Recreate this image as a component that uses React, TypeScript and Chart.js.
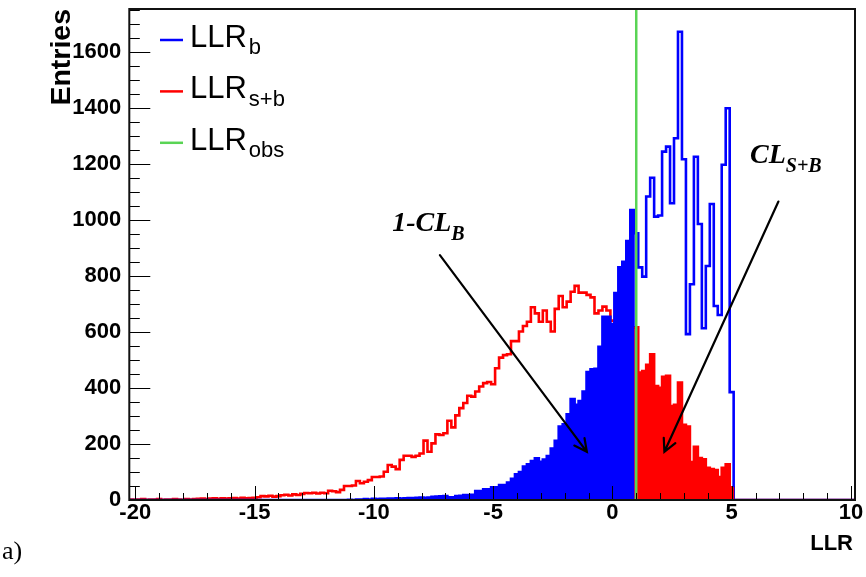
import React, { useEffect, useRef } from "react";
import { Chart, registerables } from "chart.js";

Chart.register(...registerables);

// ---- Histogram binning (LLR axis) ----
const BIN_START = -20.25;
const BIN_WIDTH = 1 / 6;
const BIN_COUNT = 183;

// LLR_{s+b} entries per bin (first value = bin LLR_SB_FIRST_BIN)
const LLR_SB_FIRST_BIN = 0;
const LLR_SB_COUNTS = [
  2, 1, 2, 3, 1, 2, 2, 3, 1, 2, 2, 3, 2, 1, 3, 2, 3,
  4, 5, 3, 5, 6, 4, 6, 5,
  6, 7, 5, 8, 6, 7, 8, 10,
  14, 13, 15, 12, 14,
  17, 19, 16, 20, 18,
  22, 25, 24, 26, 23, 26,
  24, 33, 31, 28, 36, 50, 50, 52, 68, 60,
  65, 71, 82, 82, 84, 101, 125, 119, 110, 143,
  158, 158, 154, 158, 166, 212, 172, 202, 234, 232,
  238, 283, 259, 302, 328, 346, 372, 369, 387, 405,
  417, 421, 413, 470, 508, 517, 520, 567, 567, 601,
  621, 636, 688, 666, 636, 676, 636, 601, 682, 728,
  688, 708, 743, 764, 740, 740, 732, 723, 666, 676,
  690, 676, 640, 620, 635, 610, 625, 615, 616, 455,
  460, 482, 520, 407, 400, 440, 443, 335, 340, 419,
  268, 262, 135, 190, 150, 145, 115, 110, 107, 82,
  115, 127, 45, 0,
];

// LLR_b entries per bin (first value = bin LLR_B_FIRST_BIN)
const LLR_B_FIRST_BIN = 55;
const LLR_B_COUNTS = [
  1, 0, 2, 2, 3, 2, 4, 3, 4, 4,
  5, 5, 6, 5, 6, 7, 7, 8, 9, 8,
  9, 11, 12, 13, 14, 10, 10, 14, 15, 18,
  18, 19, 32, 32, 38, 38, 45, 45, 53, 53,
  62, 76, 92, 100, 119, 127, 139, 149, 136, 144,
  157, 184, 211, 262, 270, 306, 360, 340, 353, 387,
  457, 466, 468, 547, 654, 654, 628, 738, 830, 850,
  924, 1035, 952, 830, 797, 1083, 1150, 1011, 1015, 1243,
  1261, 1059, 1291, 1671, 1216, 592, 770, 1225, 985, 613,
  835, 1056, 692, 660, 1196, 1398, 385,
];

const LLR_OBS = 1.0;

// ---- Axes ----
const X_MIN = -20.25;
const X_MAX = 10.17;
const Y_MIN = 0;
const Y_MAX = 1752;
const X_TICKS = [-20, -15, -10, -5, 0, 5, 10];
const X_MINOR_STEP = 1;
const Y_TICKS = [0, 200, 400, 600, 800, 1000, 1200, 1400, 1600];
const Y_MINOR_STEP = 50;

// ---- Texts ----
const X_TITLE = "LLR";
const Y_TITLE = "Entries";
const PANEL_LABEL = "a)";

const BLUE = "#0000ff";
const RED = "#ff0000";
const GREEN = "#59d454";

const LEGEND = [
  { main: "LLR", sub: "b", color: BLUE },
  { main: "LLR", sub: "s+b", color: RED },
  { main: "LLR", sub: "obs", color: GREEN },
];

const ANNOTATIONS = [
  { main: "1-CL", sub: "B", x: -9.23, y: 960, from: [-7.23, 874], to: [-1.07, 172] },
  { main: "CL", sub: "S+B", x: 5.77, y: 1202, from: [6.96, 1065], to: [2.18, 172] },
];

// ---- helpers ----
const edge = (k: number) => BIN_START + k * BIN_WIDTH;
const countAt = (first: number, counts: number[], k: number) =>
  k >= first && k < first + counts.length ? counts[k - first] : 0;

function stepPoints(first: number, counts: number[], from: number, to: number) {
  const pts: { x: number; y: number }[] = [];
  for (let k = from; k < to; k++) pts.push({ x: edge(k), y: countAt(first, counts, k) });
  pts.push({ x: edge(to), y: 0 });
  return pts;
}

const OBS_BIN = Math.floor((LLR_OBS - BIN_START) / BIN_WIDTH);

const SANS = '"Liberation Sans", Arial, Helvetica, sans-serif';
const SERIF = '"Liberation Serif", "Times New Roman", serif';

function drawSub(
  ctx: CanvasRenderingContext2D,
  x: number,
  y: number,
  main: string,
  sub: string,
  mainFont: string,
  subFont: string,
  subDy: number,
  gap: number
) {
  ctx.font = mainFont;
  ctx.fillText(main, x, y);
  const w = ctx.measureText(main).width;
  ctx.font = subFont;
  ctx.fillText(sub, x + w + gap, y + subDy);
}

const overlay = {
  id: "overlay",
  afterDraw(chart: any) {
    const { ctx, chartArea: a, scales } = chart;
    const xs = scales.x;
    const ys = scales.y;
    ctx.save();

    // ticks (inside the frame)
    ctx.strokeStyle = "#000";
    ctx.lineWidth = 1;
    ctx.beginPath();
    for (let v = Math.ceil(X_MIN); v <= X_MAX; v += X_MINOR_STEP) {
      const px = Math.round(xs.getPixelForValue(v)) + 0.5;
      const len = X_TICKS.includes(v) ? 14 : 7;
      ctx.moveTo(px, a.bottom);
      ctx.lineTo(px, a.bottom - len);
    }
    for (let v = Y_MIN; v <= Y_MAX; v += Y_MINOR_STEP) {
      const py = Math.round(ys.getPixelForValue(v)) + 0.5;
      const len = Y_TICKS.includes(v) ? 21 : 10.5;
      ctx.moveTo(a.left, py);
      ctx.lineTo(a.left + len, py);
    }
    ctx.stroke();

    // frame
    ctx.lineWidth = 2;
    ctx.strokeStyle = "#111";
    ctx.strokeRect(a.left, a.top, a.right - a.left, a.bottom - a.top);

    ctx.fillStyle = "#000";
    ctx.textBaseline = "alphabetic";

    // axis titles
    ctx.font = `bold 22px ${SANS}`;
    ctx.textAlign = "right";
    ctx.fillText(X_TITLE, a.right - 2, 550);

    ctx.save();
    ctx.translate(70, a.top);
    ctx.rotate(-Math.PI / 2);
    ctx.font = `bold 28.5px ${SANS}`;
    ctx.textAlign = "right";
    ctx.fillText(Y_TITLE, 0, 0);
    ctx.restore();

    // panel label
    ctx.textAlign = "left";
    ctx.font = `26px ${SERIF}`;
    ctx.fillText(PANEL_LABEL, 2, 559);

    // legend
    LEGEND.forEach((e, i) => {
      const yl = 40 + i * 51.4;
      ctx.strokeStyle = e.color;
      ctx.lineWidth = 2.5;
      ctx.beginPath();
      ctx.moveTo(160, yl);
      ctx.lineTo(183, yl);
      ctx.stroke();
      ctx.fillStyle = "#000";
      drawSub(ctx, 190, yl + 6.7, e.main, e.sub, `31px ${SANS}`, `22px ${SANS}`, 7.5, 2);
    });

    // annotations + arrows
    ANNOTATIONS.forEach((an) => {
      ctx.fillStyle = "#000";
      drawSub(
        ctx,
        xs.getPixelForValue(an.x),
        ys.getPixelForValue(an.y),
        an.main,
        an.sub,
        `italic bold 28px ${SERIF}`,
        `italic bold 20px ${SERIF}`,
        9,
        0
      );
      const x0 = xs.getPixelForValue(an.from[0]);
      const y0 = ys.getPixelForValue(an.from[1]);
      const x1 = xs.getPixelForValue(an.to[0]);
      const y1 = ys.getPixelForValue(an.to[1]);
      ctx.strokeStyle = "#000";
      ctx.lineWidth = 2.2;
      ctx.lineCap = "round";
      ctx.beginPath();
      ctx.moveTo(x0, y0);
      ctx.lineTo(x1, y1);
      const ang = Math.atan2(y0 - y1, x0 - x1);
      const L = 14;
      const h = (27 * Math.PI) / 180;
      ctx.moveTo(x1 + L * Math.cos(ang + h), y1 + L * Math.sin(ang + h));
      ctx.lineTo(x1, y1);
      ctx.lineTo(x1 + L * Math.cos(ang - h), y1 + L * Math.sin(ang - h));
      ctx.stroke();
    });

    ctx.restore();
  },
};

export default function App() {
  const ref = useRef<HTMLCanvasElement>(null);

  useEffect(() => {
    if (!ref.current) return;

    const redOutline = stepPoints(LLR_SB_FIRST_BIN, LLR_SB_COUNTS, 0, BIN_COUNT);
    const blueOutline = stepPoints(LLR_B_FIRST_BIN, LLR_B_COUNTS, 0, BIN_COUNT);
    const blueFill = stepPoints(LLR_B_FIRST_BIN, LLR_B_COUNTS, LLR_B_FIRST_BIN, OBS_BIN);
    const redFill = stepPoints(
      LLR_SB_FIRST_BIN,
      LLR_SB_COUNTS,
      OBS_BIN,
      LLR_SB_FIRST_BIN + LLR_SB_COUNTS.length
    );

    const common = { pointRadius: 0, pointHoverRadius: 0, stepped: true as const, tension: 0 };

    const chart = new Chart(ref.current, {
      type: "line",
      data: {
        datasets: [
          {
            label: "obs",
            data: [
              { x: LLR_OBS, y: Y_MIN },
              { x: LLR_OBS, y: Y_MAX },
            ],
            borderColor: GREEN,
            borderWidth: 2.5,
            pointRadius: 0,
            fill: false,
            order: 0,
          },
          {
            label: "s+b fill",
            data: redFill,
            ...common,
            borderColor: RED,
            backgroundColor: RED,
            borderWidth: 1,
            fill: "origin",
            order: 1,
          },
          {
            label: "b outline",
            data: blueOutline,
            ...common,
            borderColor: BLUE,
            borderWidth: 2.6,
            fill: false,
            order: 2,
          },
          {
            label: "b fill",
            data: blueFill,
            ...common,
            borderColor: BLUE,
            backgroundColor: BLUE,
            borderWidth: 1,
            fill: "origin",
            order: 3,
          },
          {
            label: "s+b outline",
            data: redOutline,
            ...common,
            borderColor: RED,
            borderWidth: 2.6,
            fill: false,
            order: 4,
          },
        ] as any,
      },
      options: {
        responsive: false,
        maintainAspectRatio: false,
        devicePixelRatio: 1,
        animation: false,
        events: [],
        layout: { padding: { left: 0, right: 11, top: 9, bottom: 0 } },
        plugins: {
          legend: { display: false },
          tooltip: { enabled: false },
          title: { display: false },
        },
        scales: {
          x: {
            type: "linear",
            min: X_MIN,
            max: X_MAX,
            afterBuildTicks: (s: any) => {
              s.ticks = X_TICKS.map((v) => ({ value: v }));
            },
            afterFit: (s: any) => {
              s.height = 77;
              s.paddingLeft = 0;
              s.paddingRight = 0;
            },
            grid: { display: false, drawTicks: false },
            border: { display: false },
            ticks: {
              autoSkip: false,
              maxRotation: 0,
              minRotation: 0,
              padding: 0,
              color: "#000",
              font: { family: SANS, size: 22, weight: "bold" },
              callback: (v: any) => String(v),
            },
          },
          y: {
            type: "linear",
            min: Y_MIN,
            max: Y_MAX,
            afterBuildTicks: (s: any) => {
              s.ticks = Y_TICKS.map((v) => ({ value: v }));
            },
            afterFit: (s: any) => {
              s.width = 129.3;
              s.paddingTop = 0;
              s.paddingBottom = 0;
            },
            grid: { display: false, drawTicks: false },
            border: { display: false },
            ticks: {
              autoSkip: false,
              padding: 8,
              color: "#000",
              font: { family: SANS, size: 22, weight: "bold" },
              callback: (v: any) => String(v),
            },
          },
        },
      } as any,
      plugins: [overlay],
    });

    return () => chart.destroy();
  }, []);

  return (
    <div style={{ position: "absolute", left: 0, top: 0, width: 866, height: 577, background: "#fff" }}>
      <canvas ref={ref} width={866} height={577} style={{ display: "block", width: 866, height: 577 }} />
    </div>
  );
}
